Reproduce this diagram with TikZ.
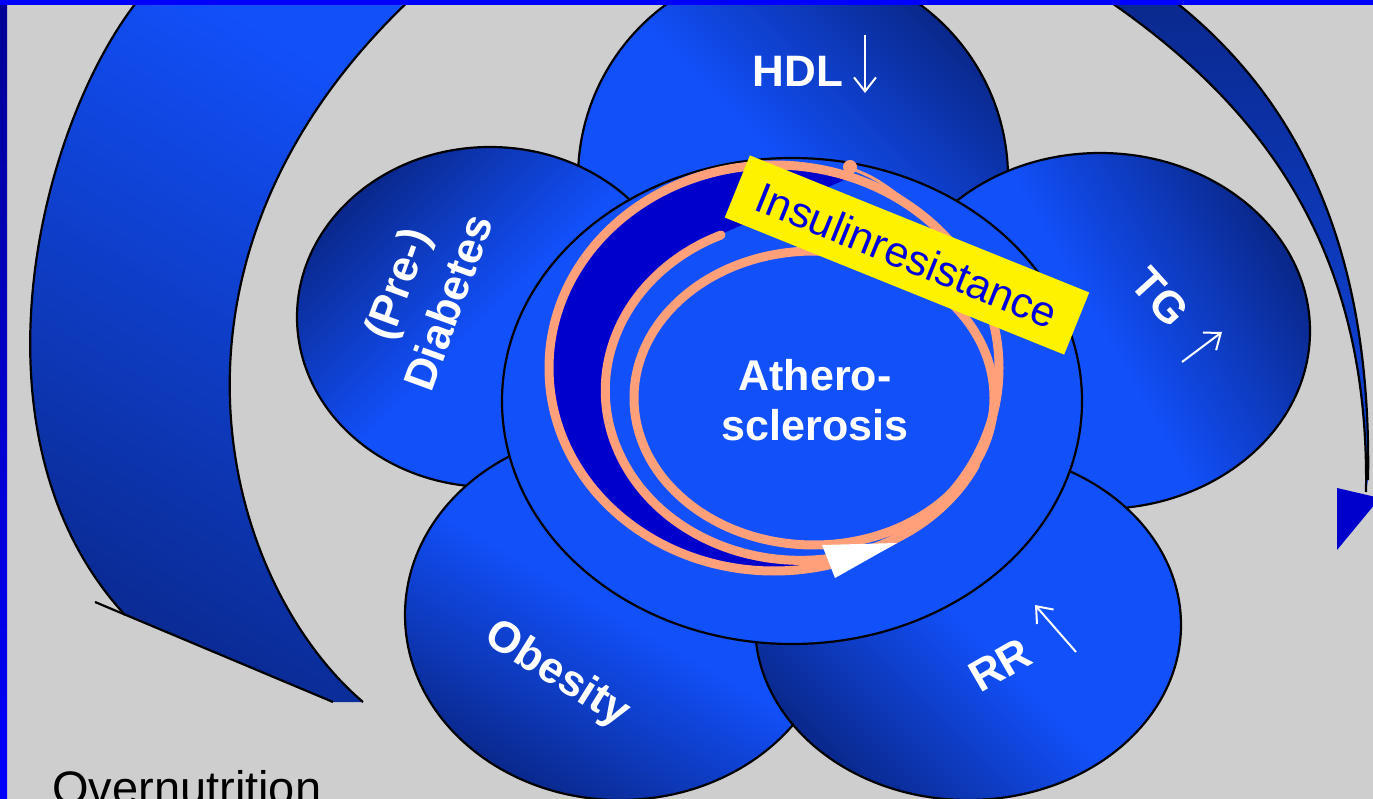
\documentclass[tikz,border=0pt]{standalone}
\usepackage{fontspec}
\setmainfont{Liberation Sans}
\usetikzlibrary{arrows.meta}
\definecolor{slidegray}{RGB}{206,206,206}
\definecolor{slideblue}{RGB}{0,0,255}
\definecolor{framedark}{RGB}{0,0,150}
\definecolor{bubblelight}{RGB}{18,80,250}
\definecolor{bubbledark}{RGB}{10,40,140}
\definecolor{crescent}{RGB}{0,0,204}
\definecolor{salmon}{RGB}{255,160,122}
\definecolor{insulinblue}{RGB}{0,0,220}
\tikzstyle{bubble}=[draw=black,line width=2.2pt,top color=bubbledark,bottom color=bubblelight,middle color=bubblelight]
\tikzstyle{bubbletext}=[white,font=\bfseries\fontsize{44}{55}\selectfont,align=center,inner sep=0pt]
\tikzstyle{trend}=[white,line width=2pt,->,>={Straight Barb[length=14pt,width=22pt]}]
\tikzstyle{ring}=[salmon,line width=9pt]
\tikzstyle{edge}=[black,line width=2.2pt]

\begin{document}
\begin{tikzpicture}[x=1pt,y=-1pt]
        \useasboundingbox (0,0) rectangle (1373,799);
        \clip (0,0) rectangle (1373,799);
        \fill[slidegray] (0,0) rectangle (1373,799);

        \shade[top color=bubblelight,bottom color=bubbledark,shading angle=-30]
          (151,-15) .. controls (45,100) and (-45,430) .. (125,615)
          -- (333,702) -- (363,702)
          .. controls (220,580) and (130,250) .. (426,-15) -- cycle;
        \draw[edge] (151,-15) .. controls (45,100) and (-45,430) .. (125,615);
        \draw[edge] (95,602) -- (333,702);
        \draw[edge] (363,702) .. controls (220,580) and (130,250) .. (426,-15);

        \shade[top color=bubbledark,bottom color=bubblelight!80!bubbledark]
          (1085,-15) .. controls (1255,95) and (1370,240) .. (1366,492)
          -- (1368,480) .. controls (1372,250) and (1300,90) .. (1153,-15) -- cycle;
        \draw[edge] (1085,-15) .. controls (1255,95) and (1370,240) .. (1366,492);
        \draw[edge] (1368,480) .. controls (1372,250) and (1300,90) .. (1153,-15);
        \fill[crescent] (1337,488) -- (1380,498) -- (1337,550) -- cycle;

        \shade[bubble,shading angle=-45] (793,178) ellipse [x radius=215, y radius=215];
        \shade[bubble,shading angle=45] (490,317) ellipse [x radius=193, y radius=170];
        \shade[bubble,shading angle=-60] (1100,331) ellipse [x radius=210, y radius=178];
        \shade[bubble,shading angle=150] (620,615) ellipse [x radius=215, y radius=185];
        \shade[bubble,shading angle=135] (968,625) ellipse [x radius=213, y radius=175];
        \filldraw[bubblelight,draw=black,line width=2.2pt] (792,401) ellipse [x radius=290, y radius=243];

        \fill[crescent] (851,177) arc[start angle=-70, end angle=-285, x radius=225, y radius=203]
          -- (834,557) arc[start angle=80, end angle=246, x radius=195, y radius=170] -- cycle;
        \draw[ring] (774,368) ellipse [x radius=225, y radius=203];
        \draw[ring,line cap=round] (721,235) arc[start angle=246, end angle=26, x radius=195, y radius=170];
        \draw[ring] (814,398) ellipse [x radius=180, y radius=147];
        \fill[salmon] (850,167) circle[radius=7];
        \draw[salmon,line width=3pt] (850,168) .. controls (875,178) .. (912,205);
        \fill[white] (822,545) -- (897,543) -- (835,578) -- cycle;

        \node at (907,255) [rotate=-22,fill=yellow,minimum width=366pt,minimum height=67pt,inner sep=0pt,text=insulinblue,font=\fontsize{43}{50}\selectfont] (insulin) {Insulinresistance};
        \node at (815,400) [bubbletext,font=\bfseries\fontsize{43}{50}\selectfont] (athero) {Athero-\\sclerosis};

        \node at (798,71) [bubbletext] (hdl) {HDL};
        \coordinate (hdl top) at (865,35);
        \coordinate (hdl end) at (865,93);
        \draw[trend] (hdl top) -- (hdl end);
        \node at (422,293) [bubbletext,rotate=70] (diab) {(Pre-)\\Diabetes};
        \node at (1160,297) [bubbletext,rotate=-48] (tg) {TG};
        \coordinate (tg tail) at (1182,362);
        \coordinate (tg head) at (1222,332);
        \draw[trend] (tg tail) -- (tg head);
        \node at (1000,665) [bubbletext,rotate=30] (rr) {RR};
        \coordinate (rr tail) at (1076,652);
        \coordinate (rr head) at (1035,605);
        \draw[trend] (rr tail) -- (rr head);
        \node at (557,675) [bubbletext,rotate=-32] (obes) {Obesity};
        \node at (52,804) [anchor=base west,inner sep=0pt,font=\fontsize{47}{56}\selectfont] (overnut) {Overnutrition};

        \shade[top color=framedark,bottom color=slideblue] (0,0) rectangle (7,799);
        \fill[slideblue] (0,0) rectangle (1373,5);
      \end{tikzpicture}
\end{document}
